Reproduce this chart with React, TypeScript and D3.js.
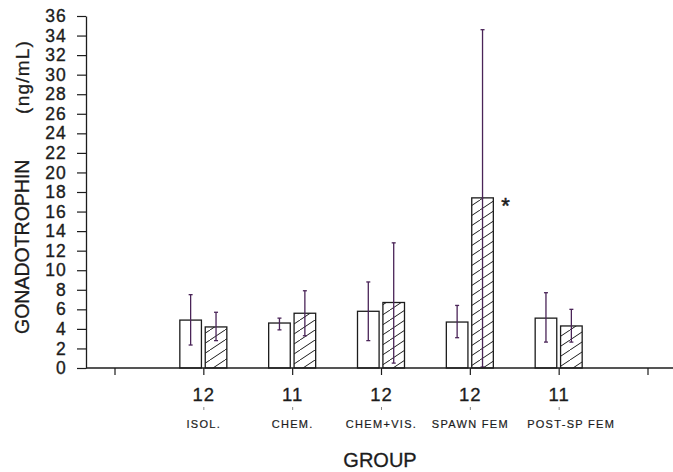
import React, { useRef, useEffect } from 'react';
import * as d3 from 'd3';

// group labels, n per group, and the two series (open = control, hatched = treated)
const groups = ['ISOL.', 'CHEM.', 'CHEM+VIS.', 'SPAWN FEM', 'POST-SP FEM'];
const groupN = ['12', '11', '12', '12', '11'];
const seriesKeys = ['open', 'hatched'];

const openMean = [4.9, 4.6, 5.8, 4.7, 5.1];
const openLow = [2.35, 3.9, 2.8, 3.1, 2.65];
const openHigh = [7.5, 5.1, 8.8, 6.4, 7.7];

const hatchMean = [4.2, 5.6, 6.7, 17.4, 4.3];
const hatchLow = [2.8, 3.3, 0.5, 0.1, 2.65];
const hatchHigh = [5.7, 7.9, 12.8, 34.6, 6.0];

const significant = ['SPAWN FEM'];

const yTicks = d3.range(0, 37, 2);

const W = 673;
const H = 472;

const App = () => {
  const svgRef = useRef<SVGSVGElement>(null);

  useEffect(() => {
    const svg = d3.select(svgRef.current);
    svg.selectAll('*').remove();

    const font = 'Liberation Sans, Arial, Helvetica, sans-serif';
    const ink = '#1c1c1c';
    const errInk = '#4a2458';

    // x positions: a blank slot on each side of the five groups
    const slots = ['_l', ...groups, '_r'];
    const x = d3.scalePoint<string>().domain(slots).range([115, 648]);
    const sub = d3.scaleBand<string>().domain(seriesKeys).range([-24, 23]).paddingInner(0.15);

    const y = d3.scaleLinear().domain([0, 36]).range([368, 16]);
    const axisX = 86;

    const defs = svg.append('defs');
    const pat = defs.append('pattern')
      .attr('id', 'hatch')
      .attr('patternUnits', 'userSpaceOnUse')
      .attr('width', 15)
      .attr('height', 10);
    pat.append('rect').attr('width', 15).attr('height', 10).attr('fill', 'white');
    pat.append('line')
      .attr('x1', -1).attr('y1', 10.67)
      .attr('x2', 16).attr('y2', -0.67)
      .attr('stroke', ink)
      .attr('stroke-width', 1);

    const rows = groups.map((g, i) => ({
      group: g,
      open: { mean: openMean[i], lo: openLow[i], hi: openHigh[i] },
      hatched: { mean: hatchMean[i], lo: hatchLow[i], hi: hatchHigh[i] },
    }));

    const bars = rows.flatMap(r => seriesKeys.map(k => ({
      group: r.group,
      key: k,
      ...(r as any)[k],
    })));

    const bx = (d: any) => (x(d.group) as number) + (sub(d.key) as number);

    // bars
    svg.append('g')
      .selectAll('rect')
      .data(bars)
      .join('rect')
      .attr('x', bx)
      .attr('y', d => y(d.mean))
      .attr('width', sub.bandwidth())
      .attr('height', d => y(0) - y(d.mean))
      .attr('fill', d => d.key === 'hatched' ? 'url(#hatch)' : 'white')
      .attr('stroke', ink)
      .attr('stroke-width', 1.3);

    // error bars
    const err = svg.append('g').attr('stroke', errInk).attr('stroke-width', 1.3);
    err.selectAll('line.whisker')
      .data(bars)
      .join('line')
      .attr('class', 'whisker')
      .attr('x1', d => bx(d) + sub.bandwidth() / 2)
      .attr('x2', d => bx(d) + sub.bandwidth() / 2)
      .attr('y1', d => y(d.lo))
      .attr('y2', d => y(d.hi));
    err.selectAll('line.cap')
      .data(bars.flatMap(d => [{ d, v: d.lo }, { d, v: d.hi }]))
      .join('line')
      .attr('class', 'cap')
      .attr('x1', e => bx(e.d) + sub.bandwidth() / 2 - 2)
      .attr('x2', e => bx(e.d) + sub.bandwidth() / 2 + 2)
      .attr('y1', e => y(e.v))
      .attr('y2', e => y(e.v));

    // significance star
    svg.append('g')
      .selectAll('text')
      .data(significant)
      .join('text')
      .attr('x', g => (x(g) as number) + (sub('hatched') as number) + sub.bandwidth() + 8)
      .attr('y', g => y(hatchMean[groups.indexOf(g)]) + 15)
      .attr('font-family', font)
      .attr('font-size', 22)
      .attr('fill', ink)
      .attr('stroke', ink)
      .attr('stroke-width', 0.5)
      .text('*');

    // y axis
    const ya = svg.append('g')
      .attr('transform', `translate(${axisX},0)`)
      .call(d3.axisLeft(y).tickValues(yTicks).tickSize(9).tickPadding(10).tickSizeOuter(0));
    ya.select('.domain').attr('stroke', ink).attr('stroke-width', 1.3);
    ya.selectAll('.tick line').attr('stroke', ink).attr('stroke-width', 1.2);
    ya.selectAll('.tick text')
      .attr('fill', ink)
      .attr('stroke', ink)
      .attr('stroke-width', 0.35)
      .attr('font-family', font)
      .attr('font-size', 17.5)
      .attr('letter-spacing', 1.2);

    // x axis baseline and ticks
    svg.append('line')
      .attr('x1', axisX).attr('x2', W)
      .attr('y1', y(0)).attr('y2', y(0))
      .attr('stroke', ink).attr('stroke-width', 1.4);
    svg.append('g')
      .selectAll('line')
      .data(slots)
      .join('line')
      .attr('x1', s => x(s) as number)
      .attr('x2', s => x(s) as number)
      .attr('y1', y(0))
      .attr('y2', y(0) + 7)
      .attr('stroke', ink)
      .attr('stroke-width', 1.2);

    // group n and names
    const lab = svg.append('g').attr('font-family', font).attr('fill', ink).attr('text-anchor', 'middle');
    lab.selectAll('text.n')
      .data(groups)
      .join('text')
      .attr('class', 'n')
      .attr('x', g => x(g) as number)
      .attr('y', 401)
      .attr('font-size', 18.5)
      .attr('letter-spacing', 1)
      .attr('stroke', ink)
      .attr('stroke-width', 0.3)
      .text((g, i) => groupN[i]);
    lab.selectAll('line.mark')
      .data(groups)
      .join('line')
      .attr('class', 'mark')
      .attr('x1', g => x(g) as number)
      .attr('x2', g => x(g) as number)
      .attr('y1', 407)
      .attr('y2', 410)
      .attr('stroke', '#888')
      .attr('stroke-width', 1);
    lab.selectAll('text.name')
      .data(groups)
      .join('text')
      .attr('class', 'name')
      .attr('x', (g, i) => (x(g) as number) + (i === groups.length - 1 ? 12 : 0))
      .attr('y', 428)
      .attr('font-size', 11)
      .attr('letter-spacing', 1.3)
      .attr('stroke', ink)
      .attr('stroke-width', 0.2)
      .text(g => g);

    // axis titles
    svg.append('text')
      .attr('x', 380)
      .attr('y', 467)
      .attr('text-anchor', 'middle')
      .attr('font-family', font)
      .attr('font-size', 20)
      .attr('fill', ink)
      .attr('stroke', ink)
      .attr('stroke-width', 0.3)
      .text('GROUP');

    svg.append('text')
      .attr('transform', 'translate(29,334) rotate(-90)')
      .attr('text-anchor', 'start')
      .attr('font-family', font)
      .attr('font-size', 19.5)
      .attr('fill', ink)
      .attr('stroke', ink)
      .attr('stroke-width', 0.3)
      .text('GONADOTROPHIN');
    svg.append('text')
      .attr('transform', 'translate(29,40) rotate(-90)')
      .attr('text-anchor', 'end')
      .attr('font-family', font)
      .attr('font-size', 19)
      .attr('letter-spacing', 1.2)
      .attr('fill', ink)
      .attr('stroke', ink)
      .attr('stroke-width', 0.3)
      .text('(ng/mL)');
  }, []);

  return (
    <svg
      ref={svgRef}
      width={W}
      height={H}
      style={{ position: 'absolute', left: 0, top: 0, background: 'white' }}
    />
  );
};

export default App;
